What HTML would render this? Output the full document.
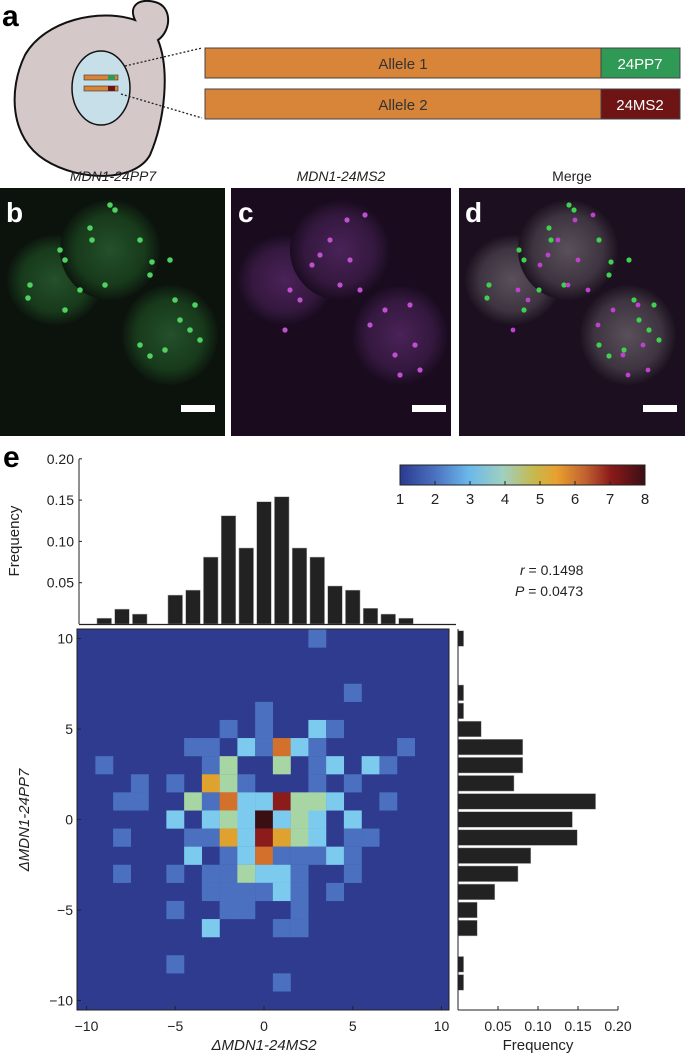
<!DOCTYPE html>
<html><head><meta charset="utf-8">
<style>
body{margin:0;background:#fff;width:685px;height:1054px;overflow:hidden;font-family:"Liberation Sans",sans-serif;}
svg{position:absolute;left:0;top:0}
</style></head>
<body>
<svg id="fig" width="685" height="1054" viewBox="0 0 685 1054" xmlns="http://www.w3.org/2000/svg" font-family="Liberation Sans, sans-serif">
<defs>
<radialGradient id="gGreen" cx="50%" cy="50%" r="50%"><stop offset="0" stop-color="#24502a"/><stop offset="0.7" stop-color="#173a1b"/><stop offset="1" stop-color="#0d160e"/></radialGradient>
<radialGradient id="gMag" cx="50%" cy="50%" r="50%"><stop offset="0" stop-color="#4a2258"/><stop offset="0.7" stop-color="#34183e"/><stop offset="1" stop-color="#1a0c20"/></radialGradient>
<radialGradient id="gMerge" cx="50%" cy="50%" r="50%"><stop offset="0" stop-color="#5a505a"/><stop offset="0.7" stop-color="#3e3440"/><stop offset="1" stop-color="#1c1220"/></radialGradient>
<linearGradient id="cbar" x1="0" x2="1" y1="0" y2="0">
<stop offset="0" stop-color="#2a3a8f"/><stop offset="0.14" stop-color="#4a70bf"/><stop offset="0.28" stop-color="#6ab8ea"/><stop offset="0.42" stop-color="#9fd0c0"/><stop offset="0.55" stop-color="#c8b84a"/><stop offset="0.64" stop-color="#e8a030"/><stop offset="0.76" stop-color="#c06030"/><stop offset="0.86" stop-color="#8b1a1a"/><stop offset="1" stop-color="#3a0f14"/>
</linearGradient>
</defs>

<!-- Panel a -->
<text x="2" y="26" font-size="30" font-weight="bold">a</text>
<g>
<path d="M135,20 C128,5 140,-2 155,2 C172,6 172,30 158,40 C170,70 165,120 150,155 C135,182 80,182 45,160 C10,138 8,90 25,55 C45,20 100,8 135,20 Z" fill="#d5c8c8" stroke="#111" stroke-width="2"/>
<ellipse cx="101" cy="88" rx="29" ry="37" fill="#c7dfe9" stroke="#111" stroke-width="1.5"/>
<rect x="84" y="75" width="34" height="5" fill="#d8853a" stroke="#333" stroke-width="0.6"/>
<rect x="108" y="75" width="7" height="5" fill="#2f9a55"/>
<rect x="84" y="86" width="34" height="5" fill="#d8853a" stroke="#333" stroke-width="0.6"/>
<rect x="108" y="86" width="7" height="5" fill="#6e1414"/>
<line x1="125" y1="66" x2="202" y2="48" stroke="#222" stroke-width="1.3" stroke-dasharray="2,2"/>
<line x1="121" y1="94" x2="202" y2="118" stroke="#222" stroke-width="1.3" stroke-dasharray="2,2"/>
</g>
<g>
<rect x="205" y="48" width="396" height="30" fill="#d8853a" stroke="#444" stroke-width="1"/>
<rect x="601" y="48" width="79" height="30" fill="#2f9a55" stroke="#444" stroke-width="1"/>
<text x="403" y="69" font-size="15" text-anchor="middle" fill="#333">Allele 1</text>
<text x="640" y="69" font-size="15" text-anchor="middle" fill="#fff">24PP7</text>
</g>
<g>
<rect x="205" y="89" width="396" height="30" fill="#d8853a" stroke="#444" stroke-width="1"/>
<rect x="601" y="89" width="79" height="30" fill="#6e1414" stroke="#444" stroke-width="1"/>
<text x="403" y="110" font-size="15" text-anchor="middle" fill="#333">Allele 2</text>
<text x="640" y="110" font-size="15" text-anchor="middle" fill="#fff">24MS2</text>
</g>

<!-- Panels b-d -->
<text x="113" y="181" font-size="14" font-style="italic" text-anchor="middle" fill="#222">MDN1-24PP7</text>
<text x="341" y="181" font-size="14" font-style="italic" text-anchor="middle" fill="#222">MDN1-24MS2</text>
<text x="572" y="181" font-size="14" text-anchor="middle" fill="#222">Merge</text>
<g>
<rect x="0" y="188" width="225" height="248" fill="#0b130c"/>
<ellipse cx="55" cy="280" rx="48" ry="45" fill="url(#gGreen)"/>
<ellipse cx="110" cy="250" rx="50" ry="50" fill="url(#gGreen)"/>
<ellipse cx="170" cy="335" rx="48" ry="50" fill="url(#gGreen)"/>
</g>
<g>
<rect x="231" y="188" width="220" height="248" fill="#1a0c1e"/>
<ellipse cx="285" cy="280" rx="48" ry="45" fill="url(#gMag)"/>
<ellipse cx="340" cy="250" rx="50" ry="50" fill="url(#gMag)"/>
<ellipse cx="400" cy="335" rx="48" ry="50" fill="url(#gMag)"/>
</g>
<g>
<rect x="459" y="188" width="226" height="248" fill="#1c1020"/>
<ellipse cx="513" cy="280" rx="48" ry="45" fill="url(#gMerge)"/>
<ellipse cx="568" cy="250" rx="50" ry="50" fill="url(#gMerge)"/>
<ellipse cx="628" cy="335" rx="48" ry="50" fill="url(#gMerge)"/>
</g>
<g id="spots"></g>
<text x="6" y="222" font-size="28" font-weight="bold" fill="#fff">b</text>
<text x="238" y="222" font-size="28" font-weight="bold" fill="#fff">c</text>
<text x="465" y="222" font-size="28" font-weight="bold" fill="#fff">d</text>
<rect x="181" y="405" width="34" height="7" fill="#fff"/>
<rect x="412" y="405" width="34" height="7" fill="#fff"/>
<rect x="643" y="405" width="34" height="7" fill="#fff"/>

<!-- Panel e -->
<text x="3" y="467" font-size="30" font-weight="bold">e</text>
<g id="topHist"></g>
<g id="heat"></g>
<g id="rightHist"></g>
<g>
<rect x="400" y="465" width="245" height="20" fill="url(#cbar)" stroke="#222" stroke-width="1"/>
<g id="cbarTicks"></g>
</g>
<text x="520" y="575" font-size="14" fill="#222"><tspan font-style="italic">r</tspan> = 0.1498</text>
<text x="515" y="596" font-size="14" fill="#222"><tspan font-style="italic">P</tspan> = 0.0473</text>
</svg>
<script>
// ---- data ----
const topBins = [-9,-8,-7,-5,-4,-3,-2,-1,0,1,2,3,4,5,6,7,8];
const topFreq = [0.007,0.018,0.012,0.035,0.041,0.081,0.131,0.092,0.148,0.154,0.092,0.081,0.046,0.041,0.019,0.012,0.007];
const rightBins = [10,7,6,5,4,3,2,1,0,-1,-2,-3,-4,-5,-6,-8,-9];
const rightFreq = [0.007,0.007,0.007,0.029,0.081,0.081,0.070,0.172,0.143,0.149,0.091,0.075,0.046,0.024,0.024,0.007,0.007];
const freqTicks = [0.05,0.10,0.15,0.20];
const freqTickLabels = ["0.05","0.10","0.15","0.20"];
const axisTicks = [-10,-5,0,5,10];
const cbarLabels = [1,2,3,4,5,6,7,8];
const cellX = [3,5,0,-2,0,3,4,-4,-3,-1,0,1,2,3,8,-9,-3,-2,1,3,4,6,7,-7,-5,-3,-2,-1,3,5,-8,-7,-4,-3,-2,-1,0,1,2,3,4,7,-5,-3,-2,-1,0,1,2,3,5,-8,-4,-3,-2,-1,0,1,2,3,5,6,-4,-2,-1,0,1,2,3,4,5,-8,-5,-3,-2,-1,0,1,2,5,-3,-2,-1,0,1,2,4,-5,-2,-1,2,-3,1,2,-5,1];
const cellY = [10,7,6,5,5,5,5,4,4,4,4,4,4,4,4,3,3,3,3,3,3,3,3,2,2,2,2,2,2,2,1,1,1,1,1,1,1,1,1,1,1,1,0,0,0,0,0,0,0,0,0,-1,-1,-1,-1,-1,-1,-1,-1,-1,-1,-1,-2,-2,-2,-2,-2,-2,-2,-2,-2,-3,-3,-3,-3,-3,-3,-3,-3,-3,-4,-4,-4,-4,-4,-4,-4,-5,-5,-5,-5,-6,-6,-6,-8,-9];
const cellLevel = [2,2,2,2,2,3,2,2,2,3,2,6,3,2,2,2,2,4,4,2,3,3,2,2,2,5,4,2,2,2,2,2,4,2,6,3,3,7,4,4,3,2,3,3,4,3,8,3,4,3,3,2,2,2,5,3,7,5,4,3,2,2,3,2,3,6,2,2,2,3,2,2,2,2,2,4,3,3,2,2,2,2,2,2,3,2,2,2,2,2,2,3,2,2,2,2];

// ---- scales ----
const NS = "http://www.w3.org/2000/svg";
const xS = v => 264 + 17.75 * v;
const yS = v => 819.5 - 18.1 * v;
const topY = f => 624 - f * 826;
const rightX = f => 458 + f * 800;
const levelColors = ["#2e3b8f","#4a70bf","#7ccbee","#a8d5a4","#dfa22f","#d3702c","#8c1c1c","#3a0f14"];
function mk(tag, attrs, parent, txt){
  const e = document.createElementNS(NS, tag);
  for (const k in attrs) e.setAttribute(k, attrs[k]);
  if (txt !== undefined) e.textContent = txt;
  parent.appendChild(e); return e;
}

// ---- spots in micrographs ----
(function(){
  const g = document.getElementById('spots');
  const gs = [[60,250],[65,260],[90,228],[92,240],[110,205],[115,210],[140,240],[152,262],[65,310],[80,290],[105,285],[150,275],[170,260],[195,305],[180,320],[190,330],[175,300],[140,345],[150,356],[165,350],[30,285],[28,298],[200,340]];
  gs.forEach(p=>{ const c=mk('circle',{cx:p[0],cy:p[1],r:2.8,fill:'#4fd060'},g);
     });
  const ms = [[347,220],[365,215],[330,240],[320,255],[312,265],[290,290],[300,300],[285,330],[340,285],[360,290],[385,310],[410,305],[395,355],[415,345],[420,370],[400,375],[370,325],[350,260]];
  ms.forEach(p=>{ const c=mk('circle',{cx:p[0],cy:p[1],r:2.6,fill:'#c050d0'},g);
     });
  gs.forEach(p=>{ const c=mk('circle',{cx:p[0]+459,cy:p[1],r:2.6,fill:'#40d050'},g);
     });
  ms.forEach(p=>{ const c=mk('circle',{cx:p[0]+228,cy:p[1],r:2.4,fill:'#c040d0'},g);
     });
})();

// ---- top histogram ----
(function(){
  const g = document.getElementById('topHist');
  for (let i=0;i<topBins.length;i++){
    const r = mk('rect',{x:xS(topBins[i])-7.3,y:topY(topFreq[i]),width:14.6,height:624-topY(topFreq[i]),fill:'#222',stroke:'#aaa','stroke-width':0.5},g);
    
    
  }
  const ax = mk('line',{x1:79,y1:459,x2:79,y2:624,stroke:'#222','stroke-width':1},g);
   
  const bx = mk('line',{x1:79,y1:624.5,x2:456,y2:624.5,stroke:'#222','stroke-width':1.2},g);
   
  for (let i=0;i<freqTicks.length;i++){
    const y = topY(freqTicks[i]);
    mk('line',{x1:79,y1:y,x2:82,y2:y,stroke:'#222'},g);
    const t = mk('text',{x:74,y:y+5,'font-size':14,'text-anchor':'end',fill:'#222'},g,freqTickLabels[i]);
     
  }
  const tl = mk('text',{x:0,y:0,'font-size':15,'text-anchor':'middle',fill:'#222',transform:'translate(19,541) rotate(-90)'},g,'Frequency');
   
})();

// ---- heatmap ----
(function(){
  const g = document.getElementById('heat');
  const bg = mk('rect',{x:77,y:629,width:372,height:381,fill:levelColors[0]},g);
   
  for (let i=0;i<cellX.length;i++){
    const c = mk('rect',{x:xS(cellX[i])-8.875,y:yS(cellY[i])-9.05,width:17.9,height:18.2,fill:levelColors[cellLevel[i]-1]},g);
    
    
  }
  mk('rect',{x:77,y:629,width:372,height:381,fill:'none',stroke:'#222','stroke-width':1},g);
  axisTicks.forEach(v=>{
    mk('line',{x1:xS(v),y1:1010,x2:xS(v),y2:1006,stroke:'#222'},g);
    mk('line',{x1:77,y1:yS(v),x2:81,y2:yS(v),stroke:'#222'},g);
    const lab = v<0 ? '\u2212'+Math.abs(v) : String(v);
    const tx = mk('text',{x:xS(v),y:1031,'font-size':14,'text-anchor':'middle',fill:'#222'},g,lab);
     
    const ty = mk('text',{x:73,y:yS(v)+5,'font-size':14,'text-anchor':'end',fill:'#222'},g,lab);
     
  });
  const xt = mk('text',{x:264,y:1050,'font-size':15,'text-anchor':'middle',fill:'#222','font-style':'italic'},g,'\u0394MDN1-24MS2');
   
  const yt = mk('text',{x:0,y:0,'font-size':15,'text-anchor':'middle',fill:'#222','font-style':'italic',transform:'translate(29,820) rotate(-90)'},g,'\u0394MDN1-24PP7');
   
})();

// ---- right histogram ----
(function(){
  const g = document.getElementById('rightHist');
  for (let i=0;i<rightBins.length;i++){
    const r = mk('rect',{x:458,y:yS(rightBins[i])-7.8,width:rightX(rightFreq[i])-458,height:15.6,fill:'#222',stroke:'#aaa','stroke-width':0.5},g);
    
    
  }
  const a1 = mk('line',{x1:458,y1:629,x2:458,y2:1010,stroke:'#222'},g);
   
  const a2 = mk('line',{x1:458,y1:1010,x2:618,y2:1010,stroke:'#222'},g);
   
  for (let i=0;i<freqTicks.length;i++){
    const x = rightX(freqTicks[i]);
    mk('line',{x1:x,y1:1010,x2:x,y2:1006,stroke:'#222'},g);
    const t = mk('text',{x:x,y:1031,'font-size':14,'text-anchor':'middle',fill:'#222'},g,freqTickLabels[i]);
     
  }
  const tl = mk('text',{x:538,y:1050,'font-size':15,'text-anchor':'middle',fill:'#222'},g,'Frequency');
   
})();

// ---- colorbar ticks ----
(function(){
  const g = document.getElementById('cbarTicks');
  cbarLabels.forEach((v,i)=>{
    const x = 400 + (v-1)/7*245;
    mk('line',{x1:x,y1:481,x2:x,y2:485,stroke:'#222'},g);
    const t = mk('text',{x:x,y:504,'font-size':15,'text-anchor':'middle',fill:'#222'},g,String(v));
    
    
  });
})();
</script>
</body></html>
